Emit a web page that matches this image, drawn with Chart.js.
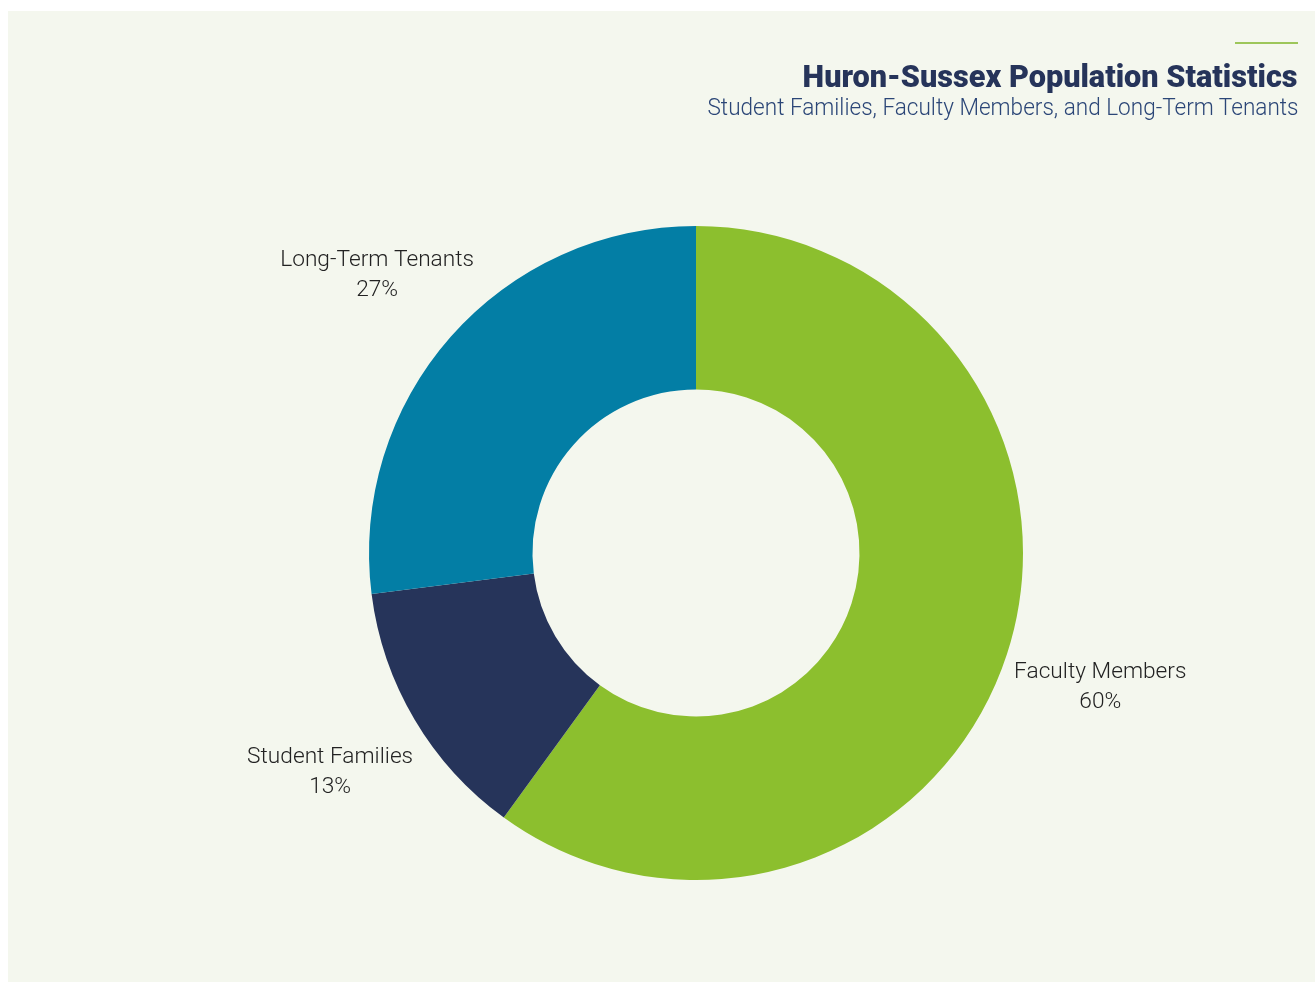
<!DOCTYPE html>
<html>
<head>
<meta charset="utf-8">
<script src="https://cdn.jsdelivr.net/npm/chart.js@4/dist/chart.umd.min.js"></script>
<style>
  html, body { margin: 0; padding: 0; background: #ffffff; width: 1315px; height: 983px; overflow: hidden; }
  #panel { position: absolute; left: 8px; top: 11px; width: 1307px; height: 971px; background: #f4f7ee; }
  #rule { position: absolute; left: 1227px; top: 31px; width: 63px; height: 2px; background: #9dc65a; }
  #title { position: absolute; right: 17px; top: 46px; font-family: Roboto, "Liberation Sans", sans-serif; font-weight: 900; font-size: 31px; color: #26345a; white-space: nowrap; transform-origin: right center; line-height: 40px; }
  #subtitle { position: absolute; right: 17px; top: 82px; font-family: Roboto, "Liberation Sans", sans-serif; font-weight: 300; font-size: 23px; color: #2b4677; white-space: nowrap; transform-origin: right center; line-height: 30px; }
  #wrap { position: absolute; left: 0; top: 0; width: 1307px; height: 971px; }
</style>
</head>
<body>
<div id="panel">
  <div id="wrap"><canvas id="c" width="1307" height="971"></canvas></div>
  <div id="rule"></div>
  <div id="title"></div>
  <div id="subtitle"></div>
</div>
<script>
const titleText = "Huron-Sussex Population Statistics";
const subtitleText = "Student Families, Faculty Members, and Long-Term Tenants";
const categories = ["Faculty Members", "Student Families", "Long-Term Tenants"];
const shares = [60, 13, 27];
const sliceColors = ["#8cbf2e", "#26345a", "#037ea5"];

const t = document.getElementById('title');
t.textContent = titleText;
const s = document.getElementById('subtitle');
s.textContent = subtitleText;
function fit(el, w) {
  const r = el.getBoundingClientRect().width;
  el.style.transform = 'scaleX(' + (w / r) + ')';
}
fit(t, 495);
fit(s, 591);

const outsideLabels = {
  id: 'outsideLabels',
  afterDatasetsDraw(chart) {
    const ctx = chart.ctx;
    const meta = chart.getDatasetMeta(0);
    ctx.save();
    ctx.fillStyle = '#222222';
    ctx.textAlign = 'center';
    ctx.textBaseline = 'alphabetic';
    ctx.font = '300 22.7px Roboto, "Liberation Sans", sans-serif';
    meta.data.forEach((arc, i) => {
      const p = arc.getProps(['x', 'y', 'startAngle', 'endAngle', 'outerRadius'], true);
      const mid = (p.startAngle + p.endAngle) / 2;
      const r = p.outerRadius * 1.3;
      const cx = p.x + Math.cos(mid) * r;
      const cy = p.y + Math.sin(mid) * r;
      ctx.fillText(categories[i], cx, cy - 6);
      ctx.fillText(shares[i] + '%', cx, cy + 24);
    });
    ctx.restore();
  }
};

new Chart(document.getElementById('c'), {
  type: 'doughnut',
  data: {
    labels: categories,
    datasets: [{
      data: shares,
      backgroundColor: sliceColors,
      borderWidth: 0,
      hoverOffset: 0
    }]
  },
  options: {
    responsive: false,
    animation: false,
    cutout: '50%',
    layout: { padding: { left: 69, right: 0, top: 215, bottom: 102 } },
    plugins: {
      legend: { display: false },
      tooltip: { enabled: false },
      title: { display: false }
    }
  },
  plugins: [outsideLabels]
});
</script>
</body>
</html>
